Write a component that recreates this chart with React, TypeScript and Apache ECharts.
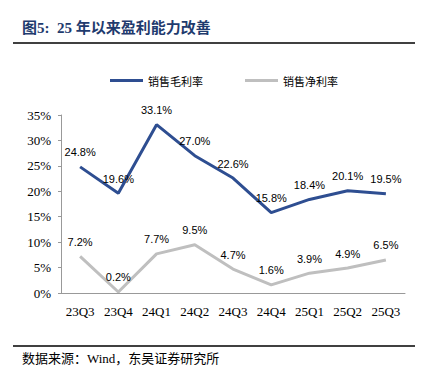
import React, { useEffect, useRef } from "react";
import * as echarts from "echarts";

const categories = ["23Q3", "23Q4", "24Q1", "24Q2", "24Q3", "24Q4", "25Q1", "25Q2", "25Q3"];
const grossMargin = [24.8, 19.6, 33.1, 27.0, 22.6, 15.8, 18.4, 20.1, 19.5];
const netMargin = [7.2, 0.2, 7.7, 9.5, 4.7, 1.6, 3.9, 4.9, 6.5];
const seriesNames = ["销售毛利率", "销售净利率"];
const titleText = "图5:  25 年以来盈利能力改善";
const sourceText = "数据来源：Wind，东吴证券研究所";

export default function App() {
  const ref = useRef<HTMLDivElement>(null);
  useEffect(() => {
    if (!ref.current) return;
    const chart = echarts.init(ref.current, null, { renderer: "svg" });
    const labelStyle = {
      show: true,
      position: "top" as const,
      distance: 9,
      color: "#000",
      fontSize: 11,
      fontFamily: "Liberation Sans, Arial, sans-serif",
      formatter: (p: any) => p.value.toFixed(1) + "%",
    };
    chart.setOption({
      animation: false,
      backgroundColor: "#fff",
      graphic: [
        {
          type: "text",
          left: 22,
          top: 20,
          style: {
            text: titleText,
            fill: "#1F3B6E",
            font: "bold 15px 'Liberation Serif', 'Noto Sans CJK SC', serif",
          },
        },
        {
          type: "line",
          shape: { x1: 13, y1: 43, x2: 415, y2: 43 },
          style: { stroke: "#000", lineWidth: 1.5 },
        },
        {
          type: "line",
          shape: { x1: 13, y1: 346, x2: 415, y2: 346 },
          style: { stroke: "#000", lineWidth: 1.5 },
        },
        {
          type: "text",
          left: 22,
          top: 352,
          style: {
            text: sourceText,
            fill: "#000",
            font: "13px 'Liberation Serif', 'Noto Sans CJK SC', serif",
          },
        },
      ],
      legend: {
        top: 70,
        left: 105,
        itemWidth: 33,
        itemHeight: 3,
        itemGap: 42,
        icon: "rect",
        textStyle: { fontSize: 11, color: "#000", fontFamily: "'Noto Sans CJK SC', sans-serif" },
        data: seriesNames,
      },
      grid: { left: 61, right: 31, top: 115, bottom: 91 },
      xAxis: {
        type: "category",
        data: categories,
        boundaryGap: true,
        axisLine: { lineStyle: { color: "#999" } },
        axisTick: { inside: true, length: 4, lineStyle: { color: "#999" } },
        axisLabel: {
          color: "#000",
          fontSize: 13,
          fontFamily: "Liberation Serif, Times New Roman, serif",
          margin: 12,
        },
      },
      yAxis: {
        type: "value",
        min: 0,
        max: 35,
        interval: 5,
        splitLine: { show: false },
        axisLine: { show: true, lineStyle: { color: "#999" } },
        axisTick: { show: true, length: 3, lineStyle: { color: "#999" } },
        axisLabel: {
          color: "#000",
          fontSize: 13,
          fontFamily: "Liberation Serif, Times New Roman, serif",
          formatter: "{value}%",
          margin: 10,
        },
      },
      series: [
        {
          name: seriesNames[0],
          type: "line",
          data: grossMargin,
          symbol: "circle",
          symbolSize: 0,
          showSymbol: true,
          lineStyle: { color: "#2E4E91", width: 3 },
          itemStyle: { color: "#2E4E91" },
          label: labelStyle,
        },
        {
          name: seriesNames[1],
          type: "line",
          data: netMargin,
          symbol: "circle",
          symbolSize: 0,
          showSymbol: true,
          lineStyle: { color: "#BFBFBF", width: 3 },
          itemStyle: { color: "#BFBFBF" },
          label: labelStyle,
        },
      ],
    });
    return () => chart.dispose();
  }, []);
  return <div ref={ref} style={{ width: 436, height: 384, margin: -8 }} />;
}
